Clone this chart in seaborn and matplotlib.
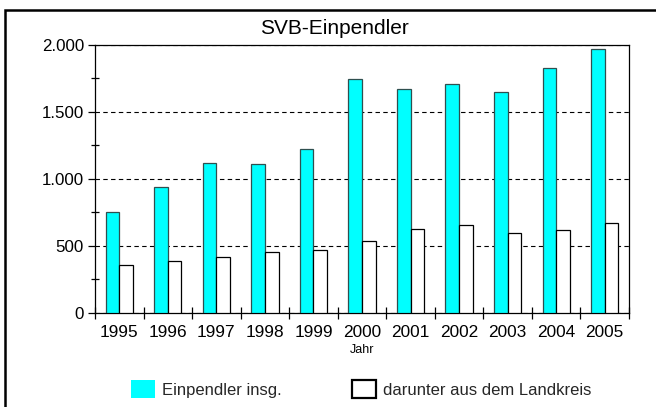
import matplotlib
matplotlib.use("Agg")
import matplotlib.pyplot as plt
import matplotlib.patches as mpatches
from matplotlib.ticker import FixedLocator, FuncFormatter
import seaborn as sns
import pandas as pd

years = ["1995", "1996", "1997", "1998", "1999", "2000", "2001", "2002", "2003", "2004", "2005"]
einpendler = [754, 936, 1120, 1108, 1220, 1743, 1669, 1706, 1651, 1830, 1972]
landkreis = [353, 387, 417, 450, 465, 532, 622, 654, 597, 619, 667]
series_names = ["Einpendler insg.", "darunter aus dem Landkreis"]
title = "SVB-Einpendler"
xlabel = "Jahr"

df = pd.DataFrame({
    "Jahr": years * 2,
    "Wert": einpendler + landkreis,
    "Serie": [series_names[0]] * len(years) + [series_names[1]] * len(years),
})

sns.set_theme(style="white")
plt.rcParams["font.family"] = ["Liberation Sans", "DejaVu Sans"]

fig = plt.figure(figsize=(6.56, 4.07), dpi=100)
fig.patch.set_facecolor("white")
ax = fig.add_axes([95 / 656, 1 - 312.7 / 407, (629 - 95) / 656, (312.7 - 45) / 407])

cyan = "#00FFFF"
sns.barplot(data=df, x="Jahr", y="Wert", hue="Serie", order=years, hue_order=series_names,
            palette={series_names[0]: cyan, series_names[1]: "white"},
            width=0.56, ax=ax, legend=False, saturation=1, errorbar=None)

n = len(years)
for i, p in enumerate(ax.patches):
    if i < n:
        p.set_edgecolor("#2f4f4f")
    else:
        p.set_edgecolor("black")
    p.set_linewidth(0.9)
    p.set_zorder(3)

ax.set_xlim(-0.5, n - 0.5)
ax.set_ylim(0, 2000)

ax.set_axisbelow(True)
ax.yaxis.grid(True, linestyle=(0, (4, 3)), color="black", linewidth=0.8)
ax.xaxis.grid(False)

for s in ax.spines.values():
    s.set_color("black")
    s.set_linewidth(0.9)
    s.set_visible(True)

ax.yaxis.set_major_locator(FixedLocator([0, 500, 1000, 1500, 2000]))
ax.yaxis.set_minor_locator(FixedLocator([250, 750, 1250, 1750]))
ax.yaxis.set_major_formatter(FuncFormatter(lambda v, _: f"{int(v):,}".replace(",", ".")))
ax.tick_params(axis="y", which="major", direction="out", length=5, width=0.9, color="black",
               left=True, pad=3, labelsize=12.2, labelcolor="black")
ax.tick_params(axis="y", which="minor", direction="inout", length=6, width=0.9, color="black", left=True)

ax.set_xticks(range(n))
ax.set_xticklabels(years)
ax.xaxis.set_minor_locator(FixedLocator([k - 0.5 for k in range(n + 1)]))
ax.tick_params(axis="x", which="major", length=0, pad=9, labelsize=12.4, labelcolor="black")
ax.tick_params(axis="x", which="minor", direction="inout", length=9, width=0.9, color="black", bottom=True)

ax.set_xlabel(xlabel, fontsize=9, labelpad=3, color="black")
ax.set_ylabel("")

fig.text(334.5 / 656, 1 - 29 / 407, title, ha="center", va="center", fontsize=15, color="black")

frame = mpatches.Rectangle((5 / 656, -0.2), 1.2, 1 - 10 / 407 + 0.2, transform=fig.transFigure,
                           fill=False, edgecolor="black", linewidth=1.8, clip_on=False)
fig.patches.append(frame)

handles = [
    mpatches.Patch(facecolor=cyan, edgecolor=cyan, linewidth=0),
    mpatches.Patch(facecolor="white", edgecolor="black", linewidth=1.6),
]
leg = fig.legend(handles, series_names, loc="center left", bbox_to_anchor=(131 / 656, 1 - 389 / 407),
                 ncol=2, frameon=False, borderpad=0, borderaxespad=0, handlelength=1.44,
                 handleheight=1.35, handletextpad=0.42, columnspacing=4.25,
                 prop={"size": 12})

fig.savefig("out.png", dpi=100, facecolor="white")
